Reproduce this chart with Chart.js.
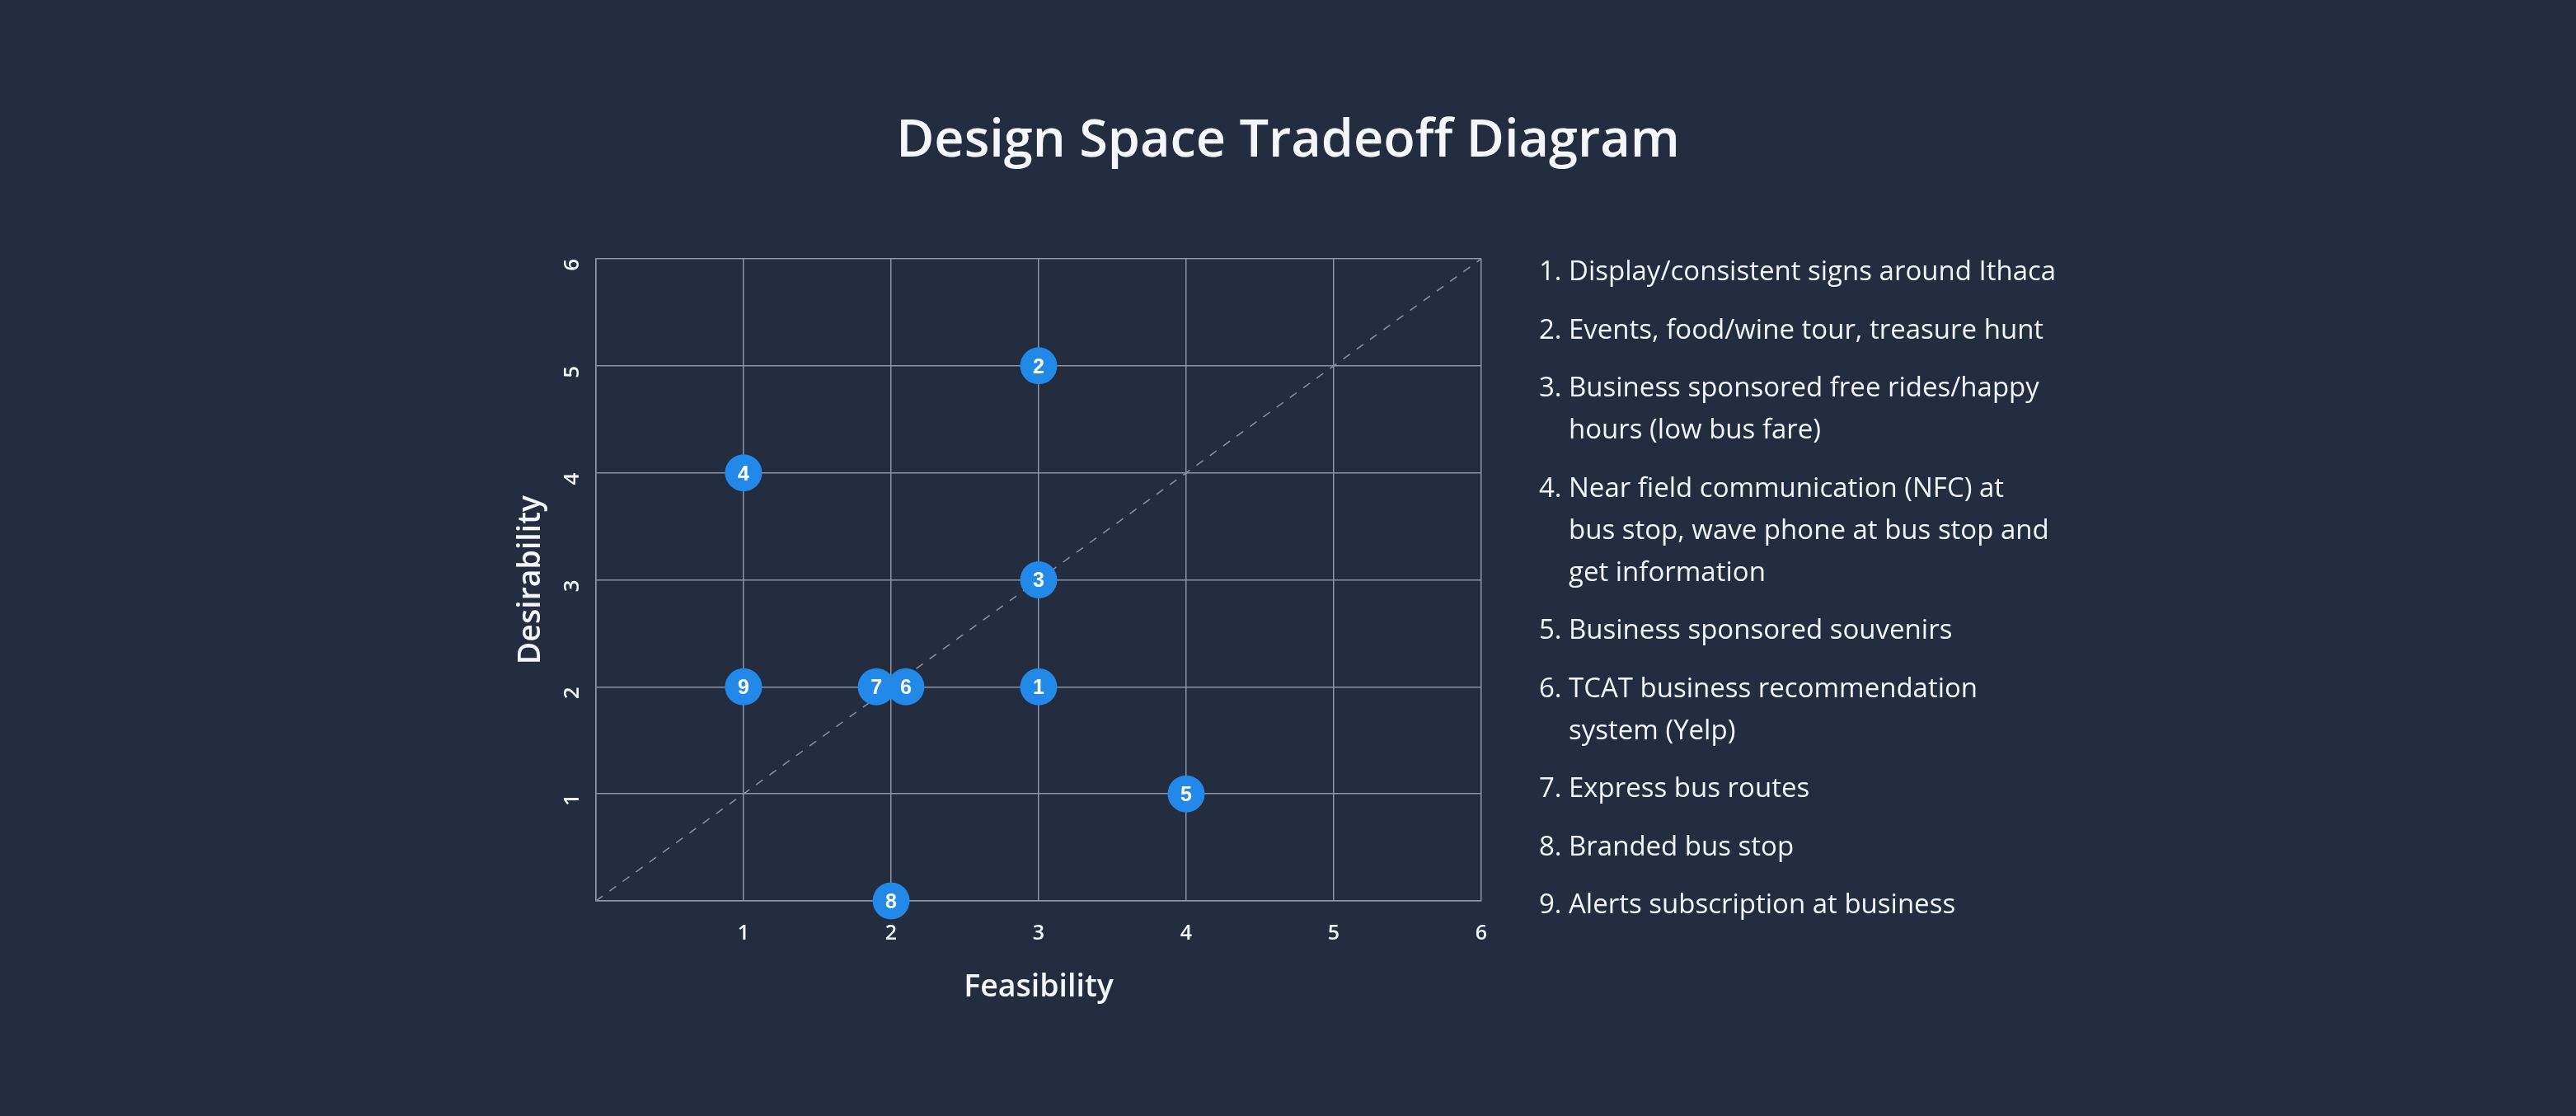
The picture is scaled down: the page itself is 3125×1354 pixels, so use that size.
<!DOCTYPE html>
<html>
<head>
<meta charset="utf-8">
<script src="https://cdn.jsdelivr.net/npm/chart.js@4/dist/chart.umd.min.js"></script>
<style>
  html, body { margin:0; padding:0; background:#232d3f; width:3125px; height:1354px; overflow:hidden; font-family:"Open Sans", sans-serif; color:#f2f4f7; }
  #c { position:absolute; left:0; top:0; }
  #title { position:absolute; left:0; top:123px; width:3125px; text-align:center; font-size:63px; line-height:86px; font-weight:600; color:#f4f6f9; }
  #legend { position:absolute; left:1867px; top:302px; font-size:33px; line-height:51px; color:#f2f4f7; }
  .item { display:flex; margin-bottom:19.5px; white-space:nowrap; }
  .num { width:36px; flex:none; }
</style>
</head>
<body>
<div id="title">Design Space Tradeoff Diagram</div>
<canvas id="c" width="3125" height="1354"></canvas>
<div id="legend"></div>
<script>
// ---- data ----
const ideaNumbers   = ['1', '2', '3', '4', '5', '6', '7', '8', '9'];
const feasibility   = [3, 3, 3, 1, 4, 2.1, 1.9, 2, 1];
const desirability  = [2, 5, 3, 4, 1, 2, 2, 0, 2];
const diagonalX     = [0, 6];
const diagonalY     = [0, 6];
const tickValues    = [1, 2, 3, 4, 5, 6];
const ideaTexts = [
  ['Display/consistent signs around Ithaca'],
  ['Events, food/wine tour, treasure hunt'],
  ['Business sponsored free rides/happy', 'hours (low bus fare)'],
  ['Near field communication (NFC) at', 'bus stop, wave phone at bus stop and', 'get information'],
  ['Business sponsored souvenirs'],
  ['TCAT business recommendation', 'system (Yelp)'],
  ['Express bus routes'],
  ['Branded bus stop'],
  ['Alerts subscription at business']
];

// ---- legend (HTML text) ----
const legendEl = document.getElementById('legend');
ideaTexts.forEach((lines, i) => {
  const item = document.createElement('div');
  item.className = 'item';
  const n = document.createElement('span');
  n.className = 'num';
  n.textContent = ideaNumbers[i] + '.';
  const t = document.createElement('span');
  t.innerHTML = lines.map(s => s.replace(/&/g, '&amp;').replace(/</g, '&lt;')).join('<br>');
  item.appendChild(n);
  item.appendChild(t);
  legendEl.appendChild(item);
});

// ---- plugin: numbers inside points ----
const pointNumbers = {
  id: 'pointNumbers',
  afterDatasetsDraw(chart) {
    const meta = chart.getDatasetMeta(0);
    const ctx = chart.ctx;
    ctx.save();
    ctx.fillStyle = '#ffffff';
    ctx.font = 'bold 25px "Liberation Sans", Arial, sans-serif';
    ctx.textAlign = 'center';
    ctx.textBaseline = 'middle';
    meta.data.forEach((el, i) => {
      ctx.fillText(ideaNumbers[i], el.x, el.y + 2);
    });
    ctx.restore();
  }
};

const gridColor = '#8d95a3';
const font = 'Open Sans';
const tickAllowed = v => tickValues.includes(v) ? String(v) : '';

new Chart(document.getElementById('c').getContext('2d'), {
  type: 'scatter',
  data: {
    datasets: [
      {
        data: feasibility.map((x, i) => ({ x: x, y: desirability[i] })),
        backgroundColor: '#2389e8',
        borderColor: '#2389e8',
        borderWidth: 0,
        pointRadius: 22.5,
        pointHoverRadius: 22.5,
        clip: false,
        order: 1
      },
      {
        type: 'line',
        data: diagonalX.map((x, i) => ({ x: x, y: diagonalY[i] })),
        borderColor: '#8a93a3',
        borderWidth: 1.5,
        borderDash: [10, 10],
        pointRadius: 0,
        fill: false,
        order: 2
      }
    ]
  },
  options: {
    responsive: false,
    animation: false,
    events: [],
    layout: { padding: { left: 600, top: 314, right: 1328, bottom: 111 } },
    plugins: { legend: { display: false }, tooltip: { enabled: false } },
    scales: {
      x: {
        type: 'linear', min: 0, max: 6,
        ticks: { stepSize: 1, callback: tickAllowed, color: '#f4f6f9', padding: 25, maxRotation: 0,
                 font: { family: font, size: 25, weight: 600 } },
        grid: { color: gridColor, lineWidth: 1.5, drawTicks: false },
        border: { color: gridColor, width: 1.5 },
        title: { display: true, text: 'Feasibility', color: '#f4f6f9',
                 font: { family: font, size: 37.5, weight: 600 }, padding: { top: 0, bottom: 22 } },
        afterFit(s) { s.height = 150; }
      },
      y: {
        type: 'linear', min: 0, max: 6,
        ticks: { stepSize: 1, callback: tickAllowed, color: '#f4f6f9', padding: 28, minRotation: 90, maxRotation: 90,
                 font: { family: font, size: 26, weight: 600 } },
        grid: { color: gridColor, lineWidth: 1.5, drawTicks: false },
        border: { color: gridColor, width: 1.5 },
        title: { display: true, text: 'Desirability', color: '#f4f6f9',
                 font: { family: font, size: 37.5, weight: 600 }, padding: { top: 22, bottom: 0 } },
        afterFit(s) { s.width = 123; }
      }
    }
  },
  plugins: [pointNumbers]
});
</script>
</body>
</html>
